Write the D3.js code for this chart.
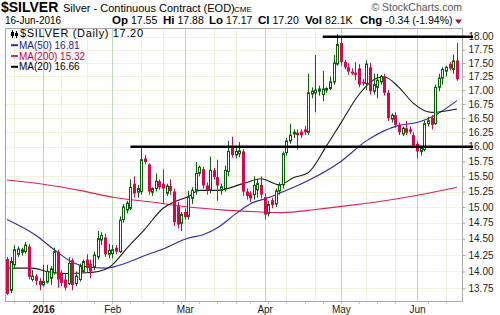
<!DOCTYPE html>
<html>
<head>
<meta charset="utf-8">
<script src="https://cdn.jsdelivr.net/npm/d3@7"></script>
<style>
  body { margin: 0; background: #fff; overflow: hidden; }
  svg { display: block; font-family: "Liberation Sans", Arial, sans-serif; }
</style>
</head>
<body>
<div id="chart"></div>
<script>
// trading calendar
var startDate = "2015-12-17";
var endDate = "2016-06-16";
var holidays = ["2015-12-25", "2016-01-01", "2016-01-18", "2016-02-15", "2016-03-25", "2016-05-30"];

// daily candles, one per trading day
var opens = [14.19, 13.72, 14.10, 14.26, 14.29, 14.30, 14.38, 13.88, 13.93, 13.86,
  13.80, 13.84, 13.90, 13.98, 14.30, 13.98, 13.88, 13.82, 14.17, 13.82,
  13.88, 14.00, 14.18, 14.12, 14.06, 14.22, 14.48, 14.52, 14.26, 14.27,
  14.36, 14.30, 14.80, 14.95, 14.98, 15.38, 15.24, 15.25, 15.80, 15.70,
  15.24, 15.30, 15.42, 15.38, 15.22, 15.34, 15.25, 15.02, 14.74, 14.92,
  14.85, 15.14, 15.27, 15.55, 15.62, 15.35, 15.27, 15.60, 15.49, 15.27,
  15.30, 15.58, 15.98, 15.86, 15.88, 15.92, 15.25, 15.22, 15.20, 15.28,
  15.36, 15.16, 14.90, 15.11, 15.05, 15.26, 15.36, 15.90, 16.10, 16.22,
  16.24, 16.26, 16.30, 16.25, 16.93, 16.95, 16.98, 16.92, 17.00, 17.03,
  17.15, 17.48, 17.88, 17.52, 17.42, 17.34, 17.32, 17.40, 17.15, 17.12,
  17.42, 16.98, 17.05, 17.15, 17.25, 16.95, 16.48, 16.55, 16.38, 16.22,
  16.32, 16.30, 16.20, 16.05, 15.92, 15.95, 16.40, 16.50, 16.40, 17.05,
  17.22, 17.35, 17.48, 17.38, 17.55];
var highs = [14.22, 14.22, 14.40, 14.38, 14.36, 14.45, 14.42, 14.02, 13.96, 13.90,
  14.10, 14.10, 14.08, 14.36, 14.33, 14.02, 13.98, 14.22, 14.20, 14.00,
  14.12, 14.18, 14.26, 14.18, 14.30, 14.62, 14.60, 14.58, 14.42, 14.40,
  14.40, 14.85, 15.05, 15.10, 15.45, 15.50, 15.36, 16.00, 15.86, 15.72,
  15.32, 15.55, 15.45, 15.62, 15.38, 15.45, 15.30, 15.08, 14.92, 14.98,
  15.26, 15.32, 15.74, 15.68, 15.66, 15.40, 15.83, 15.64, 15.78, 15.38,
  15.68, 16.10, 16.17, 15.98, 16.08, 15.96, 15.30, 15.26, 15.50, 15.45,
  15.50, 15.22, 15.10, 15.15, 15.30, 15.40, 15.92, 16.15, 16.40, 16.30,
  16.30, 16.30, 16.36, 17.30, 17.05, 17.65, 17.08, 17.35, 17.05, 17.25,
  17.65, 18.05, 18.00, 17.56, 17.50, 17.40, 17.52, 17.48, 17.20, 17.55,
  17.50, 17.30, 17.30, 17.28, 17.30, 17.00, 16.58, 16.60, 16.42, 16.35,
  16.45, 16.35, 16.25, 16.10, 16.00, 16.45, 16.52, 16.55, 17.10, 17.30,
  17.42, 17.45, 17.52, 17.66, 17.88];
var lows = [13.65, 13.68, 14.06, 14.22, 14.24, 14.27, 13.88, 13.85, 13.80, 13.72,
  13.78, 13.82, 13.80, 13.95, 13.76, 13.78, 13.72, 13.80, 13.72, 13.78,
  13.85, 13.98, 13.98, 13.90, 14.02, 14.18, 14.40, 14.22, 14.20, 14.20,
  14.26, 14.28, 14.75, 14.90, 14.95, 15.15, 15.15, 15.20, 15.70, 15.20,
  15.18, 15.25, 15.28, 15.05, 15.18, 15.20, 14.70, 14.66, 14.62, 14.80,
  14.80, 15.05, 15.20, 15.50, 15.30, 15.20, 15.22, 15.45, 15.10, 15.20,
  15.25, 15.50, 15.82, 15.80, 15.82, 15.18, 15.12, 15.08, 15.12, 15.15,
  15.14, 14.80, 14.85, 14.98, 15.00, 15.20, 15.30, 15.85, 16.05, 16.15,
  15.95, 16.15, 16.20, 16.20, 16.85, 16.60, 16.90, 16.80, 16.95, 17.00,
  17.10, 17.45, 17.45, 17.38, 17.28, 17.28, 17.18, 17.05, 17.08, 17.00,
  16.92, 16.92, 16.85, 17.10, 16.90, 16.45, 16.42, 16.32, 16.20, 16.18,
  16.20, 16.22, 15.98, 15.80, 15.85, 15.92, 16.35, 16.30, 16.38, 16.98,
  17.10, 17.25, 17.36, 17.30, 17.17];
var closes = [13.67, 14.15, 14.33, 14.34, 14.33, 14.40, 13.92, 13.93, 13.86, 13.80,
  13.85, 14.00, 14.04, 14.30, 13.88, 13.83, 13.76, 14.12, 13.80, 13.93,
  14.08, 14.15, 14.05, 14.00, 14.25, 14.50, 14.55, 14.26, 14.32, 14.33,
  14.30, 14.79, 15.00, 15.06, 15.32, 15.22, 15.30, 15.78, 15.74, 15.25,
  15.30, 15.42, 15.32, 15.30, 15.34, 15.26, 14.76, 14.72, 14.88, 14.84,
  15.16, 15.27, 15.55, 15.65, 15.35, 15.27, 15.60, 15.49, 15.35, 15.33,
  15.60, 15.92, 15.86, 15.92, 15.93, 15.25, 15.18, 15.14, 15.35, 15.38,
  15.20, 14.88, 15.04, 15.03, 15.26, 15.36, 15.88, 16.10, 16.20, 16.25,
  16.20, 16.20, 16.25, 16.95, 16.98, 17.00, 17.02, 17.02, 17.03, 17.15,
  17.50, 17.85, 17.52, 17.42, 17.34, 17.30, 17.28, 17.10, 17.12, 17.48,
  16.98, 17.10, 17.18, 17.25, 16.95, 16.50, 16.55, 16.38, 16.25, 16.32,
  16.24, 16.26, 16.02, 15.92, 15.98, 16.40, 16.45, 16.38, 17.05, 17.22,
  17.38, 17.42, 17.40, 17.54, 17.20];

// moving averages
var ma50Dates = ["2015-12-17", "2015-12-30", "2016-01-07", "2016-01-14", "2016-01-21", "2016-01-28",
  "2016-02-05", "2016-02-12", "2016-02-22", "2016-03-02", "2016-03-08", "2016-03-14", "2016-03-21",
  "2016-03-28", "2016-04-04", "2016-04-07", "2016-04-19", "2016-05-02", "2016-05-11", "2016-05-24",
  "2016-06-01", "2016-06-08", "2016-06-16"];
var ma50Vals = [14.80, 14.55, 14.33, 14.14, 14.07, 14.05, 14.13, 14.24, 14.34, 14.51, 14.56, 14.67,
  14.89, 15.05, 15.15, 15.22, 15.43, 15.75, 16.10, 16.37, 16.42, 16.55, 16.81];

var ma200Dates = ["2015-12-17", "2016-01-04", "2016-01-19", "2016-02-02", "2016-02-17", "2016-03-02",
  "2016-03-16", "2016-03-31", "2016-04-08", "2016-04-21", "2016-05-05", "2016-05-19", "2016-06-03",
  "2016-06-16"];
var ma200Vals = [15.44, 15.37, 15.27, 15.15, 15.08, 15.00, 14.95, 14.92, 14.91, 14.96, 15.03, 15.11,
  15.21, 15.32];

var ma20Dates = ["2015-12-17", "2015-12-29", "2016-01-05", "2016-01-12", "2016-01-21", "2016-01-28",
  "2016-02-01", "2016-02-05", "2016-02-12", "2016-02-22", "2016-02-25", "2016-03-02", "2016-03-07",
  "2016-03-14", "2016-03-23", "2016-03-31", "2016-04-07", "2016-04-13", "2016-04-19", "2016-04-26",
  "2016-05-02", "2016-05-09", "2016-05-16", "2016-05-18", "2016-05-24", "2016-05-31", "2016-06-07",
  "2016-06-16"];
var ma20Vals = [14.05, 14.05, 14.00, 13.97, 13.98, 14.03, 14.10, 14.35, 14.65, 14.98, 15.08, 15.17,
  15.27, 15.27, 15.38, 15.46, 15.36, 15.48, 15.56, 16.01, 16.41, 16.92, 17.22, 17.24, 17.05, 16.76,
  16.60, 16.66];

// hand-drawn horizontal lines
var levelPrices = [18.00, 16.00];
var levelStarts = ["2016-04-25", "2016-02-08"];

var yTicks = [13.75, 14.00, 14.25, 14.50, 14.75, 15.00, 15.25, 15.50, 15.75, 16.00, 16.25, 16.50,
  16.75, 17.00, 17.25, 17.50, 17.75, 18.00];

var legendRows = ["MA(50) 16.81", "MA(200) 15.32", "MA(20) 16.66"];
var quoteLabels = ["Op", "Hi", "Lo", "Cl", "Vol", "Chg"];
var quoteValues = ["17.55", "17.88", "17.17", "17.20", "82.1K", "-0.34 (-1.94%)"];

var width = 500, height = 315;
var plotL = 5, plotR = 462, plotT = 28, plotB = 301;
var upColor = "#006400", downColor = "#e2004a";
var ma50Color = "#2b2ca6", ma200Color = "#dc2452", ma20Color = "#1a1a1a";

var parse = d3.timeParse("%Y-%m-%d");
var fmt = d3.timeFormat("%Y-%m-%d");
var dates = d3.timeDay.range(parse(startDate), d3.timeDay.offset(parse(endDate), 1))
  .filter(d => d.getDay() != 0 && d.getDay() != 6 && holidays.indexOf(fmt(d)) < 0)
  .map(fmt);

var x = d3.scalePoint().domain(dates).range([7, 457]);
var y = d3.scaleLog().domain([13.75, 18]).range([288.3, 36.7]);

var svg = d3.select("#chart").append("svg")
  .attr("width", width)
  .attr("height", height);

// header first
svg.append("text")
  .attr("x", 1).attr("y", 12)
  .attr("font-size", 14)
  .attr("font-weight", "bold")
  .attr("fill", "#000")
  .text("$SILVER");

svg.append("text")
  .attr("x", 63).attr("y", 12)
  .attr("font-size", 11)
  .attr("fill", "#000")
  .text("Silver - Continuous Contract (EOD)");

svg.append("text")
  .attr("x", 234).attr("y", 12)
  .attr("font-size", 8)
  .attr("fill", "#000")
  .text("CME");

svg.append("text")
  .attr("x", 462).attr("y", 11)
  .attr("text-anchor", "end")
  .attr("font-size", 10.5)
  .attr("fill", "#555")
  .text("\u00a9 StockCharts.com");

svg.append("text")
  .attr("x", 5).attr("y", 24)
  .attr("font-size", 10)
  .attr("fill", "#000")
  .text("16-Jun-2016");

var quoteX = [112, 163, 209, 258, 305, 360];
quoteLabels.forEach((l, i) => {
  var t = svg.append("text")
    .attr("x", quoteX[i]).attr("y", 24)
    .attr("fill", "#000");
  t.append("tspan").attr("font-weight", "bold").attr("font-size", 11.5).text(l);
  t.append("tspan").attr("font-size", 10.5).attr("dx", 3).text(quoteValues[i]);
});

svg.append("path")
  .attr("d", "M455,19.5 L462,19.5 L458.5,24 Z")
  .attr("fill", "#a0103c");

// month starts and minor grid days
var monthStarts = [], minorDays = [];
dates.forEach((d, i) => {
  var dt = parse(d);
  if (i > 0) {
    var prev = parse(dates[i - 1]);
    if (dt.getMonth() != prev.getMonth()) monthStarts.push(d);
    else if ((dt.getDate() >= 11 && prev.getDate() < 11) || (dt.getDate() >= 21 && prev.getDate() < 21)) minorDays.push(d);
  }
});

var grid = svg.append("g");

grid.selectAll("line.h")
  .data(yTicks)
  .enter()
  .append("line")
  .attr("x1", plotL).attr("x2", plotR)
  .attr("y1", d => Math.round(y(d)) + 0.5)
  .attr("y2", d => Math.round(y(d)) + 0.5)
  .attr("stroke", "#f1f1da");

grid.selectAll("line.v")
  .data(minorDays)
  .enter()
  .append("line")
  .attr("x1", d => Math.round(x(d)) + 0.5)
  .attr("x2", d => Math.round(x(d)) + 0.5)
  .attr("y1", plotT).attr("y2", plotB)
  .attr("stroke", "#f1f1da");

grid.selectAll("line.m")
  .data(monthStarts)
  .enter()
  .append("line")
  .attr("x1", d => Math.round(x(d)) + 0.5)
  .attr("x2", d => Math.round(x(d)) + 0.5)
  .attr("y1", plotT).attr("y2", plotB)
  .attr("stroke", "#b9dcb9");

var plot = svg.append("g");

// moving averages
var maLine = d3.line()
  .x(d => x(d[0]))
  .y(d => y(d[1]))
  .curve(d3.curveMonotoneX);

function drawMA(ds, vs, color) {
  plot.append("path")
    .attr("d", maLine(ds.map((d, i) => [d, vs[i]])))
    .attr("fill", "none")
    .attr("stroke", color)
    .attr("stroke-width", 1.1);
}
drawMA(ma200Dates, ma200Vals, ma200Color);
drawMA(ma50Dates, ma50Vals, ma50Color);
drawMA(ma20Dates, ma20Vals, ma20Color);

// candles
var bars = plot.selectAll("g.bar")
  .data(dates)
  .enter()
  .append("g");

function cx(i) { return Math.round(x(dates[i])) + 0.5; }
function isUp(i) { return closes[i] >= opens[i]; }

bars.append("line")
  .attr("x1", (d, i) => cx(i))
  .attr("x2", (d, i) => cx(i))
  .attr("y1", (d, i) => y(highs[i]))
  .attr("y2", (d, i) => y(lows[i]))
  .attr("stroke", (d, i) => isUp(i) ? upColor : downColor);

bars.append("rect")
  .attr("x", (d, i) => isUp(i) ? cx(i) - 1 : cx(i) - 1.5)
  .attr("width", (d, i) => isUp(i) ? 2 : 3)
  .attr("y", (d, i) => y(Math.max(opens[i], closes[i])))
  .attr("height", (d, i) => Math.max(1, y(Math.min(opens[i], closes[i])) - y(Math.max(opens[i], closes[i]))))
  .attr("fill", (d, i) => isUp(i) ? "#fff" : downColor)
  .attr("stroke", (d, i) => isUp(i) ? upColor : "none")
  .attr("stroke-width", 1);

// plot frame
svg.append("rect")
  .attr("x", plotL + 0.5).attr("y", plotT + 0.5)
  .attr("width", plotR - plotL).attr("height", plotB - plotT)
  .attr("fill", "none")
  .attr("stroke", "#a8a8a8");

// right axis
var yAxis = d3.axisRight(y)
  .tickValues(yTicks)
  .tickFormat(d3.format(".2f"))
  .tickSize(3)
  .tickPadding(3);

var yg = svg.append("g")
  .attr("transform", "translate(" + (plotR + 0.5) + ",0)")
  .call(yAxis);
yg.select(".domain").remove();
yg.selectAll("line").attr("stroke", "#a8a8a8");
yg.selectAll("text")
  .attr("font-family", "'Liberation Sans', Arial, sans-serif")
  .attr("font-size", 10)
  .attr("fill", "#222");

// bottom axis, month labels
var xAxis = d3.axisBottom(x)
  .tickValues(monthStarts)
  .tickSize(0)
  .tickPadding(4)
  .tickFormat(d => parse(d).getMonth() == 0 ? d3.timeFormat("%Y")(parse(d)) : d3.timeFormat("%b")(parse(d)));

var xg = svg.append("g")
  .attr("transform", "translate(0," + (plotB + 0.5) + ")")
  .call(xAxis);
xg.select(".domain").remove();
xg.selectAll("text")
  .attr("font-family", "'Liberation Sans', Arial, sans-serif")
  .attr("font-size", 10)
  .attr("fill", "#222")
  .attr("font-weight", d => parse(d).getMonth() == 0 ? "bold" : "normal");

svg.append("g").selectAll("line")
  .data(dates.filter(d => parse(d).getDay() == 1))
  .enter()
  .append("line")
  .attr("x1", d => Math.round(x(d)) + 0.5)
  .attr("x2", d => Math.round(x(d)) + 0.5)
  .attr("y1", plotB + 1).attr("y2", plotB + 3)
  .attr("stroke", "#c4c4c4");

// support / resistance lines
svg.append("g").selectAll("line")
  .data(levelPrices)
  .enter()
  .append("line")
  .attr("x1", (d, i) => x(levelStarts[i]))
  .attr("x2", plotR + 11)
  .attr("y1", d => y(d))
  .attr("y2", d => y(d))
  .attr("stroke", "#000")
  .attr("stroke-width", 2.5);

// legend
var leg = svg.append("g");

leg.append("text")
  .attr("x", 20).attr("y", 37.3)
  .attr("font-size", 11)
  .attr("textLength", 123)
  .attr("lengthAdjust", "spacing")
  .attr("fill", "#000")
  .text("$SILVER (Daily) 17.20");

// little candle icon
leg.append("line").attr("x1", 12.5).attr("x2", 12.5).attr("y1", 30).attr("y2", 38).attr("stroke", "#000");
leg.append("rect").attr("x", 11).attr("y", 32).attr("width", 3).attr("height", 4).attr("fill", "#000");
leg.append("line").attr("x1", 16.5).attr("x2", 16.5).attr("y1", 31).attr("y2", 38).attr("stroke", "#000");
leg.append("rect").attr("x", 15).attr("y", 33).attr("width", 3).attr("height", 3).attr("fill", "#000");

var legColors = [ma50Color, ma200Color, "#000"];
var legTextColors = ["#1c1c8c", "#c8003c", "#000"];
legendRows.forEach((t, i) => {
  var cy = 45.2 + i * 10.8;
  leg.append("line")
    .attr("x1", 11).attr("x2", 18)
    .attr("y1", cy).attr("y2", cy)
    .attr("stroke", legColors[i])
    .attr("stroke-width", 2);
  leg.append("text")
    .attr("x", 19).attr("y", cy + 3.6)
    .attr("font-size", 10)
    .attr("fill", legTextColors[i])
    .text(t);
});
</script>
</body>
</html>
